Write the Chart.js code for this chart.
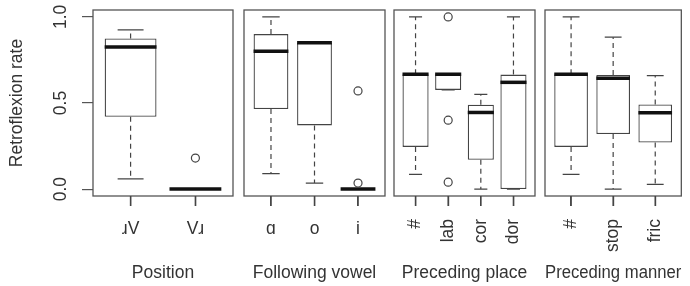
<!DOCTYPE html>
<html>

<head>
    <meta charset="utf-8">
    <title>Retroflexion rate</title>
    <script src="https://cdn.jsdelivr.net/npm/chart.js@4.4.6/dist/chart.umd.min.js"></script>
    <style>
        body { margin: 0; background: #fff; }
        #wrap { position: relative; width: 690px; height: 286px; }
        #wrap canvas { position: absolute; left: 0; top: 0; }
    </style>
</head>

<body>
    <div id="wrap">
        <canvas id="c0" width="690" height="286"></canvas>
        <canvas id="c1" width="690" height="286"></canvas>
        <canvas id="c2" width="690" height="286"></canvas>
        <canvas id="c3" width="690" height="286"></canvas>
    </div>
    <script>
        // data
        const yTitle = "Retroflexion rate"
        const yTickValues = [0, 0.5, 1]
        const yTickLabels = ["0.0", "0.5", "1.0"]
        const panelTitles = ["Position", "Following vowel", "Preceding place", "Preceding manner"]
        const categories = [["ɹV", "Vɹ"], ["ɑ", "o", "i"], ["#", "lab", "cor", "dor"], ["#", "stop", "fric"]]
        const whiskerLow = [[0.06, 0], [0.09, 0.035, 0], [0.085, 0.576, 0, 0], [0.085, 0, 0.027]]
        const lowerQuartile = [[0.42, 0], [0.465, 0.37, 0], [0.245, 0.576, 0.17, 0], [0.245, 0.32, 0.271]]
        const medians = [[0.825, 0], [0.8, 0.85, 0], [0.667, 0.667, 0.445, 0.62], [0.667, 0.643, 0.444]]
        const upperQuartile = [[0.875, 0], [0.9, 0.85, 0], [0.667, 0.667, 0.49, 0.665], [0.667, 0.663, 0.492]]
        const whiskerHigh = [[0.925, 0], [1, 0.85, 0], [1, 0.667, 0.55, 1], [1, 0.882, 0.659]]
        const outliers = [[[], [0.18]], [[], [], [0.57, 0.035]], [[], [1, 0.4, 0.04], [], []], [[], [], []]]

        // layout
        const panelLeft = [93, 244, 394, 545]
        const panelRight = [233, 385, 535, 686]
        const labelRotation = [0, 0, 90, 90]
        const TICK_LEN = 10
        const LINE = "#444"
        const FRAME = "#555"
        const TEXT = "#333"
        const FONT = { family: "'Liberation Sans', Arial, Helvetica, sans-serif", size: 17.5 }

        const boxPlugin = {
            id: "boxParts",
            afterDatasetDraw(chart, args) {
                if (args.index !== 0) return
                const k = chart.options.panel
                const ctx = chart.ctx
                const y = chart.scales.y
                const meta = chart.getDatasetMeta(0)
                ctx.save()
                meta.data.forEach((el, i) => {
                    const x = el.x
                    const w = el.width
                    const lo = y.getPixelForValue(whiskerLow[k][i])
                    const q1 = y.getPixelForValue(lowerQuartile[k][i])
                    const q3 = y.getPixelForValue(upperQuartile[k][i])
                    const hi = y.getPixelForValue(whiskerHigh[k][i])
                    const md = y.getPixelForValue(medians[k][i])
                    ctx.strokeStyle = LINE
                    ctx.lineWidth = 1.2
                    ctx.setLineDash([5, 4])
                    ctx.beginPath()
                    ctx.moveTo(x, q3); ctx.lineTo(x, hi)
                    ctx.moveTo(x, q1); ctx.lineTo(x, lo)
                    ctx.stroke()
                    ctx.setLineDash([])
                    ctx.beginPath()
                    ctx.moveTo(x - w / 4, hi); ctx.lineTo(x + w / 4, hi)
                    ctx.moveTo(x - w / 4, lo); ctx.lineTo(x + w / 4, lo)
                    ctx.stroke()
                    ctx.strokeStyle = "#111"
                    ctx.lineWidth = 3.5
                    ctx.beginPath()
                    ctx.moveTo(x - w / 2, md); ctx.lineTo(x + w / 2, md)
                    ctx.stroke()
                })
                ctx.restore()
            },
            afterDraw(chart) {
                const ctx = chart.ctx
                const a = chart.chartArea
                const xs = chart.scales.x
                ctx.save()
                ctx.strokeStyle = FRAME
                ctx.lineWidth = 1.3
                ctx.strokeRect(a.left, a.top, a.right - a.left, a.bottom - a.top)
                // tick marks below the panel
                ctx.strokeStyle = LINE
                ctx.lineWidth = 1.5
                xs.ticks.forEach((t, i) => {
                    const px = xs.getPixelForTick(i)
                    ctx.beginPath()
                    ctx.moveTo(px, a.bottom)
                    ctx.lineTo(px, a.bottom + TICK_LEN)
                    ctx.stroke()
                })
                if (chart.options.panel === 0) {
                    const y = chart.scales.y
                    ctx.fillStyle = TEXT
                    ctx.font = FONT.size + "px " + FONT.family
                    ctx.textAlign = "center"
                    ctx.textBaseline = "middle"
                    yTickValues.forEach((v, i) => {
                        ctx.save()
                        ctx.translate(a.left - 32, y.getPixelForValue(v))
                        ctx.rotate(-Math.PI / 2)
                        ctx.fillText(yTickLabels[i], 0, 0)
                        ctx.restore()
                    })
                }
                ctx.restore()
            }
        }

        function makePanel(k) {
            const cats = categories[k]
            const n = cats.length
            const boxes = cats.map((c, i) => ({ x: i + 1, y: [lowerQuartile[k][i], upperQuartile[k][i]] }))
            const points = []
            outliers[k].forEach((list, i) => list.forEach(v => points.push({ x: i + 1, y: v })))
            const first = k === 0
            return new Chart(document.getElementById("c" + k), {
                type: "bar",
                data: {
                    datasets: [{
                        type: "bar",
                        data: boxes,
                        backgroundColor: "#fff",
                        borderColor: LINE,
                        borderWidth: 1.3,
                        borderSkipped: false,
                        barPercentage: 0.8,
                        categoryPercentage: 1,
                        order: 2,
                    }, {
                        type: "scatter",
                        data: points,
                        pointRadius: 4,
                        pointBorderWidth: 1.2,
                        pointBorderColor: LINE,
                        pointBackgroundColor: "rgba(255,255,255,0)",
                        order: 1,
                    }],
                },
                options: {
                    panel: k,
                    responsive: false,
                    animation: false,
                    devicePixelRatio: 1,
                    layout: { padding: { left: first ? 0 : panelLeft[k], right: 690 - panelRight[k], top: 10, bottom: 0 } },
                    plugins: { legend: { display: false }, tooltip: { enabled: false } },
                    scales: {
                        x: {
                            type: "linear",
                            bounds: "data",
                            offset: false,
                            min: 0.5 - 0.04 * n,
                            max: n + 0.5 + 0.04 * n,
                            afterBuildTicks: s => { s.ticks = cats.map((c, i) => ({ value: i + 1 })) },
                            afterFit: s => { s.height = 90 },
                            grid: { offset: false, drawOnChartArea: false, tickLength: TICK_LEN, color: FRAME, lineWidth: 1.2 },
                            border: { display: false },
                            ticks: {
                                autoSkip: false,
                                minRotation: labelRotation[k],
                                maxRotation: labelRotation[k],
                                padding: 13,
                                color: TEXT,
                                font: FONT,
                                callback: (v, i) => cats[i],
                            },
                            title: { display: true, text: panelTitles[k], color: TEXT, font: FONT, padding: { top: 0, bottom: 2 } },
                        },
                        y: {
                            display: first,
                            bounds: "data",
                            min: -0.04,
                            max: 1.04,
                            afterBuildTicks: s => { s.ticks = yTickValues.map(v => ({ value: v })) },
                            afterFit: s => { s.width = first ? 93 : 0 },
                            grid: { drawOnChartArea: false, tickLength: 11, color: FRAME, lineWidth: 1.2 },
                            border: { display: false },
                            ticks: { display: false },
                            title: { display: true, text: yTitle, color: TEXT, font: FONT, padding: { top: 7, bottom: 0 } },
                        },
                    },
                },
                plugins: [boxPlugin],
            })
        }

        document.addEventListener("DOMContentLoaded", () => {
            panelTitles.forEach((t, k) => makePanel(k))
        })
    </script>
</body>

</html>
